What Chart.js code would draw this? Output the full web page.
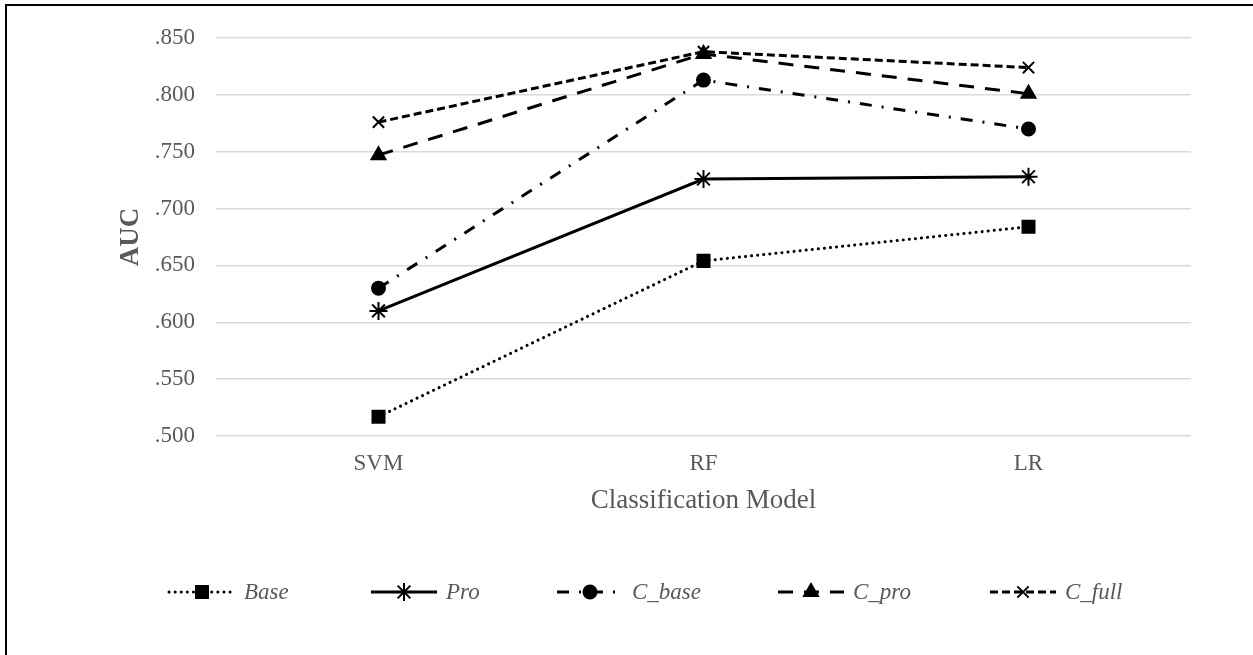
<!DOCTYPE html>
<html>
<head>
<meta charset="utf-8">
<script src="https://cdn.jsdelivr.net/npm/chart.js@4/dist/chart.umd.min.js"></script>
<style>
  html, body { margin: 0; padding: 0; background: #fff; overflow: hidden; }
  #frame {
    position: absolute; left: 5px; top: 4px; width: 2000px; height: 2000px;
    border-left: 2px solid #000; border-top: 2px solid #000;
  }
  #wrap { position: absolute; left: 0; top: 0; width: 1253px; height: 655px; }
</style>
</head>
<body>
<div id="frame"></div>
<div id="wrap"><canvas id="aucChart"></canvas></div>
<script>
const categories = ['SVM', 'RF', 'LR'];
const baseAuc  = [0.517, 0.654, 0.684];
const proAuc   = [0.610, 0.726, 0.728];
const cBaseAuc = [0.630, 0.813, 0.770];
const cProAuc  = [0.747, 0.836, 0.801];
const cFullAuc = [0.776, 0.838, 0.824];

const seriesNames = ['Base', 'Pro', 'C_base', 'C_pro', 'C_full'];
const gray = '#595959';
const serif = "'Liberation Serif', 'Times New Roman', serif";

function series(label, data, style, radius, dash, cap) {
    return {
        label: label,
        data: data,
        borderColor: '#000',
        backgroundColor: '#000',
        borderWidth: 3,
        borderDash: dash,
        borderCapStyle: cap || 'butt',
        pointStyle: style,
        pointRadius: radius,
        pointHoverRadius: radius,
        pointBackgroundColor: '#000',
        pointBorderColor: '#000',
        pointBorderWidth: 2,
        tension: 0,
        fill: false
    };
}

// legend drawn by hand: short styled line with the marker in the middle, then italic name
const legendX = [169, 371, 557, 778, 990];
const lineLegend = {
    id: 'lineLegend',
    afterDraw(chart) {
        const ctx = chart.ctx;
        const y = 592;
        const lineLen = 66;
        ctx.save();
        ctx.font = 'italic 23px ' + serif;
        ctx.textBaseline = 'middle';
        chart.data.datasets.forEach((ds, i) => {
            const x = legendX[i];
            ctx.save();
            ctx.strokeStyle = '#000';
            ctx.lineWidth = ds.borderWidth;
            ctx.lineCap = ds.borderCapStyle;
            ctx.setLineDash(ds.borderDash || []);
            ctx.beginPath();
            ctx.moveTo(x, y);
            ctx.lineTo(x + lineLen, y);
            ctx.stroke();
            ctx.restore();
            ctx.save();
            ctx.fillStyle = '#000';
            ctx.strokeStyle = '#000';
            ctx.lineWidth = ds.pointBorderWidth;
            Chart.helpers.drawPoint(ctx, {
                pointStyle: ds.pointStyle,
                radius: ds.pointRadius,
                rotation: 0,
                borderWidth: ds.pointBorderWidth
            }, x + lineLen / 2, y);
            ctx.restore();
            ctx.fillStyle = gray;
            ctx.textAlign = 'left';
            ctx.fillText(ds.label, x + lineLen + 9, y + 1);
        });
        ctx.restore();
    }
};

new Chart(document.getElementById('aucChart'), {
    type: 'line',
    data: {
        labels: categories,
        datasets: [
            series(seriesNames[0], baseAuc, 'rect', 8.5, [0.1, 6], 'round'),
            series(seriesNames[1], proAuc, 'star', 9, []),
            series(seriesNames[2], cBaseAuc, 'circle', 6.5, [12, 10, 2, 10]),
            series(seriesNames[3], cProAuc, 'triangle', 8, [15, 11]),
            series(seriesNames[4], cFullAuc, 'crossRot', 8, [8, 4])
        ]
    },
    options: {
        responsive: true,
        maintainAspectRatio: false,
        animation: false,
        layout: { padding: { left: 0, right: 62, top: 38, bottom: 119 } },
        plugins: {
            legend: { display: false },
            tooltip: { enabled: false }
        },
        scales: {
            x: {
                offset: true,
                grid: { display: false, drawTicks: false },
                border: { display: false },
                ticks: { color: gray, font: { family: serif, size: 23 }, padding: 14 },
                title: {
                    display: true,
                    text: 'Classification Model',
                    color: gray,
                    font: { family: serif, size: 27 },
                    padding: { top: 0, bottom: 19 }
                },
                afterFit(scale) { scale.height = 100; }
            },
            y: {
                min: 0.5,
                max: 0.85,
                grid: { color: '#d9d9d9', lineWidth: 1.5, drawTicks: false },
                border: { display: false },
                ticks: {
                    stepSize: 0.05,
                    padding: 21,
                    color: gray,
                    font: { family: serif, size: 23 },
                    callback: v => v.toFixed(3).replace(/^0/, '')
                },
                title: {
                    display: true,
                    text: 'AUC',
                    color: gray,
                    font: { family: serif, size: 27, weight: 'bold' },
                    padding: { top: 115, bottom: 0 }
                },
                afterFit(scale) { scale.width = 216; }
            }
        }
    },
    plugins: [lineLegend]
});
</script>
</body>
</html>
